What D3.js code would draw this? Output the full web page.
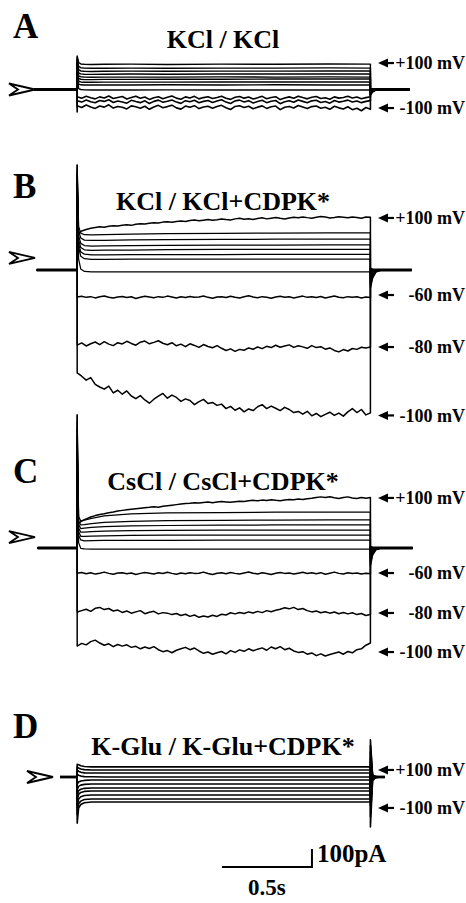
<!DOCTYPE html>
<html><head><meta charset="utf-8">
<script src="https://cdn.jsdelivr.net/npm/d3@7"></script>
<style>html,body{margin:0;padding:0;background:#fff;}svg{display:block;}</style>
</head><body>
<svg id="c" width="466" height="903"></svg>
<script>
// ---------------- DATA (times in ms, currents in pA) ----------------
const T_PULSE = 1630;
const smoothT = [8, 20, 40, 80, 150, 300, 500, 800, 1100, 1400, 1630];
const tailT = [0, 12, 30, 60];
const voltageSteps = ["+100", "+80", "+60", "+40", "+20", "0", "-20", "-40", "-60", "-80", "-100"];

// Panel A : KCl / KCl
const aSmooth = [
 [150,142,140,139,140,141,139,141,140,142,141],
 [128,121,119,118,118,119,118,119,119,120,119],
 [110,103,101,100,101,102,101,102,102,103,103],
 [93,87,85,84,85,86,85,86,86,86,86],
 [76,71,69,68,69,69,69,70,69,70,69],
 [62,57,55,55,56,56,57,57,58,58,58],
 [46,42,40,40,41,41,41,42,42,42,42],
 [30,26,25,25,25,25,26,25,26,25,25],
 [5,0,-2,-3,-3,-3,-2,-3,-3,-3,-3]
];
const aSmoothOnset = [186,180,170,160,150,140,130,120,100];
const aSmoothTail = [[-32,-14,-4,0],[-29,-12,-3,0],[-26,-11,-3,0],[-23,-10,-2,0],[-20,-8,-2,0],[-17,-7,-2,0],[-14,-6,-1,0],[-11,-4,-1,0],[-6,-2,0,0]];
const aM60 = [-40,-48,-38,-46,-52,-41,-47,-36,-50,-44,-39,-53,-45,-37,-49,-42,-55,-46,-40,-51,-43,-36,-48,-54,-41,-47,-38,-52,-45,-40,-50,-44,-37,-49,-55,-43,-39,-48,-42,-53,-46,-38,-51,-44,-40,-56,-47,-41,-49,-37,-45,-52,-43,-39,-50,-46,-54,-41,-48,-44,-38,-47,-42,-51,-45,-40];
const aM80 = [-62,-70,-58,-68,-74,-61,-66,-57,-72,-64,-69,-76,-60,-67,-73,-63,-78,-66,-59,-71,-65,-58,-70,-77,-62,-68,-60,-74,-66,-61,-72,-64,-57,-70,-78,-63,-59,-69,-62,-75,-67,-60,-73,-65,-61,-79,-68,-62,-71,-58,-66,-74,-63,-60,-72,-67,-76,-61,-70,-65,-59,-69,-64,-73,-66,-62];
const aM100 = [-90,-100,-86,-97,-105,-92,-98,-85,-103,-94,-99,-108,-91,-96,-104,-93,-110,-97,-88,-101,-95,-87,-102,-109,-92,-99,-90,-106,-97,-93,-104,-95,-88,-101,-111,-94,-90,-100,-93,-107,-98,-91,-105,-96,-92,-112,-99,-94,-103,-89,-97,-106,-95,-92,-104,-99,-110,-93,-102,-108,-96,-112,-104,-118,-100,-110];
const aNoisyOnset = [-80,-100,-125];
const aNoisyTail = [[0,0,0,0],[2,1,0,0],[4,1,0,0]];
const aLabelLevels = [147, -103];
const aLabelTexts = ["+100 mV", "-100 mV"];

// Panel B : KCl / KCl+CDPK*
const b100 = [200,217,225,232,236,240,238,243,246,244,249,251,248,254,257,255,260,263,261,266,268,265,270,272,269,275,278,274,277,280,276,279,283,280,278,284,287,282,285,281,286,290,284,288,292,287,283,289,293,290,295,291,288,293,297,294,289,292,296,293,290,295,292,288,294,293];
const bSmooth = [
 [240,205,196,195,197,199,202,204,205,206,206],
 [215,178,166,164,165,167,169,170,171,172,172],
 [190,148,136,133,134,135,137,138,138,139,139],
 [165,125,112,109,110,111,113,114,114,115,115],
 [145,100,88,84,84,85,86,86,87,87,87],
 [125,76,63,59,59,60,60,61,61,61,61],
 [60,5,-8,-10,-11,-11,-10,-11,-11,-11,-11]
];
const bSmoothOnset = [583,560,540,520,500,480,400];
const bSmoothTail = [[-88,-38,-10,0],[-75,-32,-8,0],[-62,-26,-6,0],[-50,-20,-5,0],[-38,-15,-4,0],[-25,-10,-2,0],[-12,-5,-1,0]];
const bM60 = [-150,-146,-152,-148,-155,-149,-144,-151,-156,-150,-147,-153,-149,-158,-151,-146,-150,-154,-148,-152,-145,-150,-156,-149,-153,-147,-151,-150,-144,-152,-157,-150,-148,-153,-146,-151,-155,-149,-143,-150,-154,-148,-152,-157,-150,-146,-151,-149,-155,-150,-145,-152,-148,-153,-147,-156,-150,-144,-151,-154,-148,-152,-149,-155,-150,-153];
const bM80 = [-417,-405,-422,-410,-400,-415,-398,-412,-420,-404,-411,-396,-408,-418,-401,-395,-410,-402,-393,-407,-415,-404,-421,-412,-426,-410,-419,-430,-414,-425,-432,-420,-435,-447,-438,-452,-441,-446,-433,-440,-428,-437,-424,-431,-418,-429,-422,-416,-430,-421,-427,-435,-420,-431,-426,-440,-433,-447,-455,-442,-450,-436,-441,-429,-433,-428];
const bM100 = [-572,-590,-612,-598,-635,-650,-662,-645,-683,-668,-690,-672,-700,-715,-698,-722,-740,-718,-701,-686,-712,-695,-708,-730,-716,-725,-748,-731,-719,-742,-736,-752,-745,-770,-758,-779,-766,-788,-772,-781,-760,-748,-770,-756,-768,-781,-763,-775,-792,-786,-801,-785,-810,-797,-815,-802,-790,-808,-795,-812,-788,-770,-792,-775,-805,-794];
const bNoisyOnset = [583,-150,-417,-572];
const bNoisyTail = [[-100,-45,-12,0],[0,0,0,0],[5,2,0,0],[10,3,0,0]];
const bLabelLevels = [289, -139, -428, -808];
const bLabelTexts = ["+100 mV", "-60 mV", "-80 mV", "-100 mV"];

// Panel C : CsCl / CsCl+CDPK*
const c100 = [130,150,162,172,180,186,190,196,200,206,209,212,215,218,221,224,226,229,227,232,235,238,241,244,247,249,252,250,253,255,252,255,258,256,254,257,260,258,262,265,262,266,264,268,265,263,267,270,268,272,270,274,276,280,284,281,285,279,275,280,284,278,275,281,276,280];
const cSmooth = [
 [175,150,155,165,178,190,195,197,199,200,200],
 [150,128,130,136,142,148,152,154,155,156,156],
 [130,108,110,114,119,123,125,127,128,128,128],
 [110,88,88,91,94,97,98,99,100,100,100],
 [90,65,64,66,68,70,71,72,72,72,72],
 [70,45,40,41,42,43,43,44,44,44,44],
 [30,-2,-5,-6,-6,-6,-6,-6,-6,-6,-6]
];
const cSmoothOnset = [739,700,660,620,580,540,450];
const cSmoothTail = [[-85,-35,-9,0],[-72,-30,-7,0],[-60,-24,-6,0],[-48,-19,-5,0],[-36,-14,-3,0],[-24,-9,-2,0],[-12,-4,-1,0]];
const cM60 = [-140,-136,-143,-138,-145,-140,-134,-141,-146,-139,-137,-143,-139,-147,-141,-136,-140,-144,-138,-142,-135,-141,-146,-139,-143,-137,-141,-140,-134,-142,-147,-140,-138,-143,-136,-141,-145,-139,-133,-140,-144,-138,-142,-147,-140,-136,-141,-139,-145,-140,-135,-142,-138,-143,-137,-146,-140,-134,-141,-144,-138,-142,-139,-145,-140,-143];
const cM80 = [-356,-348,-340,-352,-335,-330,-342,-336,-350,-345,-358,-350,-362,-355,-348,-365,-357,-352,-366,-359,-362,-370,-364,-375,-368,-380,-372,-385,-378,-383,-374,-380,-368,-372,-360,-366,-358,-364,-355,-361,-352,-359,-348,-354,-346,-340,-332,-338,-330,-342,-336,-348,-355,-350,-360,-354,-362,-356,-365,-358,-366,-360,-370,-364,-375,-370];
const cM100 = [-545,-530,-538,-520,-512,-528,-540,-532,-548,-536,-545,-538,-552,-546,-560,-550,-558,-548,-565,-576,-570,-582,-568,-560,-552,-565,-556,-572,-585,-578,-590,-582,-575,-588,-570,-580,-566,-574,-560,-571,-562,-555,-568,-550,-560,-548,-565,-557,-572,-580,-576,-590,-583,-598,-588,-600,-592,-585,-578,-590,-575,-582,-565,-560,-540,-528];
const cNoisyOnset = [739,-140,-356,-545];
const cNoisyTail = [[-98,-40,-10,0],[0,0,0,0],[5,2,0,0],[8,3,0,0]];
const cLabelLevels = [278, -139, -361, -578];
const cLabelTexts = ["+100 mV", "-60 mV", "-80 mV", "-100 mV"];

// Panel D : K-Glu / K-Glu+CDPK*
const dSmooth = [
 [68,62,58,56,56,56,56,56,56,56,56],
 [50,44,41,39,39,39,39,39,39,39,39],
 [32,26,23,22,22,22,22,22,22,22,22],
 [10,5,2,1,0,0,0,0,0,0,0],
 [-28,-22,-19,-17,-17,-17,-17,-17,-17,-17,-17],
 [-52,-45,-41,-39,-39,-39,-39,-39,-39,-39,-39],
 [-76,-68,-63,-61,-61,-61,-61,-61,-61,-61,-61],
 [-96,-86,-80,-78,-78,-78,-78,-78,-78,-78,-78],
 [-122,-110,-103,-100,-100,-100,-100,-100,-100,-100,-100],
 [-148,-134,-125,-122,-122,-122,-122,-122,-122,-122,-122],
 [-172,-153,-143,-139,-139,-139,-139,-139,-139,-139,-139]
];
const dSmoothOnset = [70,55,38,15,-40,-70,-100,-130,-170,-210,-256];
const dSmoothTail = [[-278,-20,-3,0],[-220,-15,-2,0],[-160,-10,-2,0],[-100,-6,-1,0],[-40,-3,0,0],[20,2,0,0],[60,4,0,0],[100,6,0,0],[140,8,1,0],[175,10,1,0],[206,12,2,0]];
const dLabelLevels = [39, -172];
const dLabelTexts = ["+100 mV", "-100 mV"];

// Titles and scale bar
const panelLetters = ["A", "B", "C", "D"];
const panelTitles = ["KCl / KCl", "KCl / KCl+CDPK*", "CsCl / CsCl+CDPK*", "K-Glu / K-Glu+CDPK*"];
const zeroMarks = [0, 67, 61, 0];        // pA level of the ">" marker
const scaleBarTime = [805, 1305];         // 0.5 s
const scaleBarCurrent = 100;              // pA
const scaleBarLabels = ["100pA", "0.5s"];

// ---------------- DRAWING ----------------
const svg = d3.select("#c");
const FONT = "'Liberation Serif','Times New Roman',serif";
const PA = 0.18; // px per pA
const x = d3.scaleLinear().domain([-240, 1850]).range([34, 410]);
const yScaleFor = y0 => d3.scaleLinear().domain([0, 1000]).range([y0, y0 - 1000 * PA]);

const panels = [
  {y0: 89.5, pre: -240, post: 1850, letterY: 38, titleY: 48, chevronTip: 35, sw: 1.4, noisyW: 1.6,
   smooth: aSmooth, smoothOnset: aSmoothOnset, smoothTail: aSmoothTail,
   noisy: [aM60, aM80, aM100], noisyOnset: aNoisyOnset, noisyTail: aNoisyTail,
   labels: aLabelLevels, labelTexts: aLabelTexts},
  {y0: 270, pre: -225, post: 1860, letterY: 198, titleY: 210, chevronTip: 35, sw: 1.25, noisyW: 1.5,
   smooth: bSmooth, smoothOnset: bSmoothOnset, smoothTail: bSmoothTail,
   noisy: [b100, bM60, bM80, bM100], noisyOnset: bNoisyOnset, noisyTail: bNoisyTail,
   labels: bLabelLevels, labelTexts: bLabelTexts},
  {y0: 548, pre: -220, post: 1865, letterY: 483, titleY: 490, chevronTip: 35, sw: 1.25, noisyW: 1.5,
   smooth: cSmooth, smoothOnset: cSmoothOnset, smoothTail: cSmoothTail,
   noisy: [c100, cM60, cM80, cM100], noisyOnset: cNoisyOnset, noisyTail: cNoisyTail,
   labels: cLabelLevels, labelTexts: cLabelTexts},
  {y0: 777, pre: -95, post: 1710, letterY: 738, titleY: 755, chevronTip: 53, sw: 1.6, noisyW: 1.5,
   smooth: dSmooth, smoothOnset: dSmoothOnset, smoothTail: dSmoothTail,
   noisy: [], noisyOnset: [], noisyTail: [],
   labels: dLabelLevels, labelTexts: dLabelTexts}
];

function buildSweep(pre, post, onset, ts, vals, tail) {
  const pts = [[pre, 0], [0, 0], [0, onset]];
  ts.forEach((t, i) => pts.push([t, vals[i]]));
  pts.push([T_PULSE, tail[0]]);
  tailT.forEach((dt, i) => { if (i > 0) pts.push([T_PULSE + dt, tail[i]]); });
  pts.push([post, 0]);
  return pts;
}

panels.forEach((p, k) => {
  const y = yScaleFor(p.y0);
  const g = svg.append("g");
  const line = d3.line().x(d => x(d[0])).y(d => y(d[1]));

  // holding-current baseline (thick)
  g.append("path").attr("d", line([[p.pre, 0], [0, 0]]))
    .attr("fill", "none").attr("stroke", "#000").attr("stroke-width", 2.8);
  g.append("path").attr("d", line([[T_PULSE, 0], [p.post, 0]]))
    .attr("fill", "none").attr("stroke", "#000").attr("stroke-width", 2.8);

  // smooth sweeps
  p.smooth.forEach((vals, i) => {
    g.append("path").attr("d", line(buildSweep(p.pre, p.post, p.smoothOnset[i], smoothT, vals, p.smoothTail[i])))
      .attr("fill", "none").attr("stroke", "#000").attr("stroke-width", p.sw).attr("stroke-linejoin", "round");
  });
  // noisy sweeps
  p.noisy.forEach((vals, i) => {
    const ts = vals.map((v, j) => j * T_PULSE / (vals.length - 1));
    g.append("path").attr("d", line(buildSweep(p.pre, p.post, p.noisyOnset[i], ts, vals, p.noisyTail[i])))
      .attr("fill", "none").attr("stroke", "#000").attr("stroke-width", p.noisyW).attr("stroke-linejoin", "round");
  });

  // ">" zero marker
  const cy = y(zeroMarks[k]), tx = p.chevronTip;
  g.append("path")
    .attr("d", `M${tx},${cy} L${tx - 26},${cy - 6} L${tx - 17},${cy} L${tx - 26},${cy + 6} Z`)
    .attr("fill", "#fff").attr("stroke", "#000").attr("stroke-width", 1.8).attr("stroke-linejoin", "miter");

  // voltage labels with arrows
  p.labels.forEach((lv, i) => {
    const ly = y(lv);
    g.append("path").attr("d", `M378,${ly} L388,${ly - 4.5} L388,${ly + 4.5} Z`).attr("fill", "#000");
    g.append("line").attr("x1", 386).attr("x2", 394).attr("y1", ly).attr("y2", ly)
      .attr("stroke", "#000").attr("stroke-width", 2.2);
    g.append("text").attr("x", 465).attr("y", ly).attr("dy", "0.34em")
      .attr("text-anchor", "end").attr("font-family", FONT).attr("font-weight", "bold")
      .attr("font-size", 18).text(p.labelTexts[i]);
  });

  // panel letter and title
  svg.append("text").attr("x", 13).attr("y", p.letterY).attr("font-family", FONT)
    .attr("font-weight", "bold").attr("font-size", 35).text(panelLetters[k]);
  svg.append("text").attr("x", 223).attr("y", p.titleY).attr("text-anchor", "middle")
    .attr("font-family", FONT).attr("font-weight", "bold").attr("font-size", 26).text(panelTitles[k]);
});

// scale bar
const sbY = 867;
const sbYScale = d3.scaleLinear().domain([0, 1000]).range([sbY, sbY - 1000 * PA]);
svg.append("path")
  .attr("d", `M${x(scaleBarTime[0])},${sbY} L${x(scaleBarTime[1])},${sbY} L${x(scaleBarTime[1])},${sbYScale(scaleBarCurrent)}`)
  .attr("fill", "none").attr("stroke", "#000").attr("stroke-width", 2);
svg.append("text").attr("x", x(scaleBarTime[1]) + 5).attr("y", 862).attr("font-family", FONT)
  .attr("font-weight", "bold").attr("font-size", 25).text(scaleBarLabels[0]);
svg.append("text").attr("x", (x(scaleBarTime[0]) + x(scaleBarTime[1])) / 2).attr("y", 895)
  .attr("text-anchor", "middle").attr("font-family", FONT).attr("font-weight", "bold")
  .attr("font-size", 23).text(scaleBarLabels[1]);
</script>
</body></html>
